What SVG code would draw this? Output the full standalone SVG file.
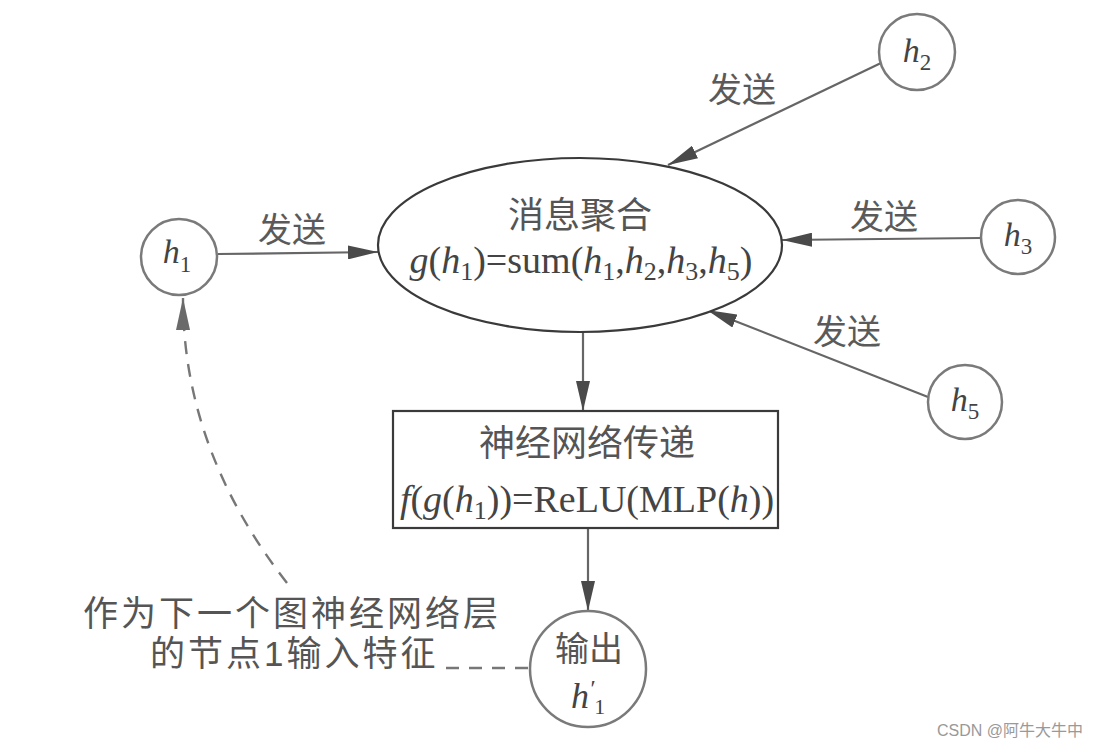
<svg xmlns="http://www.w3.org/2000/svg" width="1120" height="748" viewBox="0 0 1120 748">
<style>
.node{fill:#fff;stroke:#7a7a7a;stroke-width:2.5}
.main{fill:#fff;stroke:#3a3a3a;stroke-width:2.2}
.edge{fill:none;stroke:#666;stroke-width:2.2}
.dash{fill:none;stroke:#777;stroke-width:2.4;stroke-dasharray:13 10}
.cjk{font-family:"Noto Sans CJK SC","Noto Sans",sans-serif;fill:#555}
.note{font-family:"Liberation Sans","Noto Sans CJK SC",sans-serif;fill:#555}
.math{font-family:"Liberation Serif","Times New Roman",serif;fill:#444}
.lbl{font-family:"Noto Sans CJK SC",sans-serif;fill:#5a5a5a;font-size:34px}
.it{font-style:italic}
</style>
<defs>
<marker id="arr" markerUnits="userSpaceOnUse" markerWidth="32" markerHeight="14" refX="30" refY="7" orient="auto">
<path d="M0,0 L30,7 L0,14 z" fill="#4a4a4a"/>
</marker>
<marker id="arr2" markerUnits="userSpaceOnUse" markerWidth="34" markerHeight="14" refX="32" refY="7" orient="auto">
<path d="M0,0 L32,7 L0,14 z" fill="#6a6a6a"/>
</marker>
</defs>
<rect width="1120" height="748" fill="#fff"/>

<g id="connectors">
<line class="edge" x1="218" y1="254" x2="378" y2="252" marker-end="url(#arr)"/>
<line class="edge" x1="881" y1="63" x2="668" y2="165" marker-end="url(#arr)"/>
<line class="edge" x1="981" y1="238" x2="782" y2="240" marker-end="url(#arr)"/>
<line class="edge" x1="928" y1="397" x2="707" y2="310" marker-end="url(#arr)"/>
<line class="edge" x1="583" y1="332" x2="583" y2="411" marker-end="url(#arr)"/>
<line class="edge" x1="588" y1="528" x2="588" y2="611" marker-end="url(#arr)"/>
<path class="dash" d="M528,668 L440,668"/>
<path class="dash" d="M287,583 Q183,450 183,298" marker-end="url(#arr2)"/>
<text class="lbl" x="258" y="242">发送</text>
<text class="lbl" x="708" y="102">发送</text>
<text class="lbl" x="850" y="229">发送</text>
<text class="lbl" x="813" y="344">发送</text>
<text class="note" font-size="35" letter-spacing="3"><tspan x="83" y="626">作为下一个图神经网络层</tspan><tspan x="150" y="666">的节点1输入特征</tspan></text>
</g>

<g id="h1">
<circle class="node" cx="179" cy="257" r="38"/>
<text class="math" x="177" y="263" font-size="34" text-anchor="middle"><tspan class="it">h</tspan><tspan font-size="23" dy="9">1</tspan></text>
</g>
<g id="h2">
<circle class="node" cx="917" cy="52" r="38"/>
<text class="math" x="917" y="62" font-size="34" text-anchor="middle"><tspan class="it">h</tspan><tspan font-size="23" dy="8">2</tspan></text>
</g>
<g id="h3">
<circle class="node" cx="1018" cy="237" r="37"/>
<text class="math" x="1018" y="246" font-size="34" text-anchor="middle"><tspan class="it">h</tspan><tspan font-size="23" dy="8">3</tspan></text>
</g>
<g id="h5">
<circle class="node" cx="965" cy="402" r="37"/>
<text class="math" x="965" y="411" font-size="34" text-anchor="middle"><tspan class="it">h</tspan><tspan font-size="23" dy="8">5</tspan></text>
</g>

<g id="aggregate">
<ellipse class="main" cx="580" cy="245" rx="202" ry="87"/>
<text class="cjk" x="580" y="228" font-size="36" text-anchor="middle" fill="#4a4a4a">消息聚合</text>
<text class="math" x="581" y="273" font-size="38" text-anchor="middle"><tspan class="it">g</tspan>(<tspan class="it">h</tspan><tspan font-size="26" dy="7">1</tspan><tspan dy="-7">)=sum(</tspan><tspan class="it">h</tspan><tspan font-size="26" dy="7">1</tspan><tspan dy="-7">,</tspan><tspan class="it">h</tspan><tspan font-size="26" dy="7">2</tspan><tspan dy="-7">,</tspan><tspan class="it">h</tspan><tspan font-size="26" dy="7">3</tspan><tspan dy="-7">,</tspan><tspan class="it">h</tspan><tspan font-size="26" dy="7">5</tspan><tspan dy="-7">)</tspan></text>
</g>

<g id="mlp">
<rect class="main" x="393" y="411" width="385" height="117"/>
<text class="cjk" x="587" y="456" font-size="36" text-anchor="middle" fill="#4a4a4a">神经网络传递</text>
<text class="math" x="587" y="512" font-size="38" text-anchor="middle"><tspan class="it">f</tspan>(<tspan class="it">g</tspan>(<tspan class="it">h</tspan><tspan font-size="26" dy="7">1</tspan><tspan dy="-7">))=ReLU(MLP(</tspan><tspan class="it">h</tspan>))</text>
</g>

<g id="output">
<circle class="node" cx="588" cy="669" r="58"/>
<text class="cjk" x="589" y="661" font-size="34" text-anchor="middle">输出</text>
<text class="math" x="588" y="708" font-size="36" text-anchor="middle"><tspan class="it">h</tspan><tspan class="it" font-size="24" dy="-12">′</tspan><tspan font-size="22" dy="18">1</tspan></text>
</g>

<text x="937" y="736" font-family="Liberation Sans,Noto Sans CJK SC,sans-serif" font-size="16" fill="#999">CSDN @阿牛大牛中</text>
</svg>
